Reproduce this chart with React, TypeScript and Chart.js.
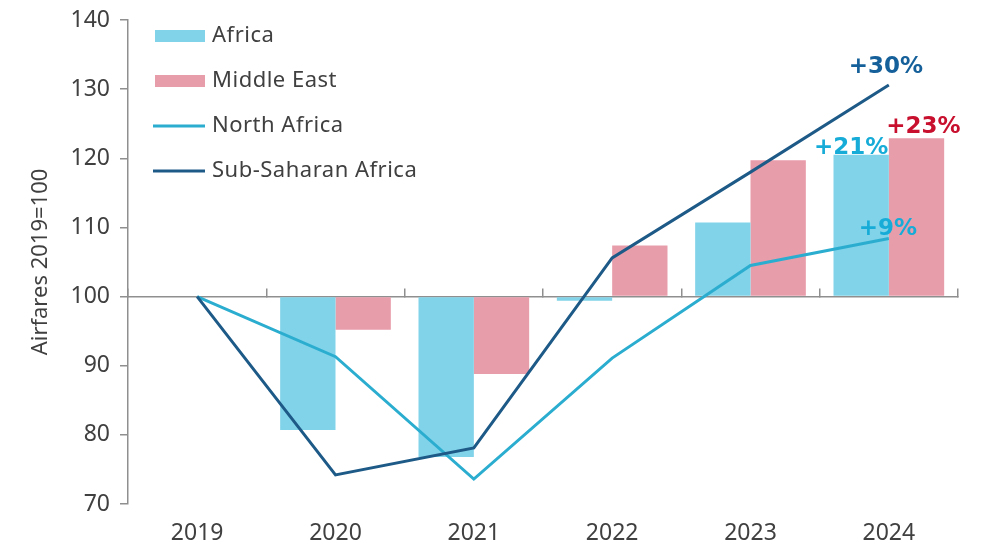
import { useEffect, useRef } from "react";
import { Chart, registerables } from "chart.js";

Chart.register(...registerables);

const years = ["2019", "2020", "2021", "2022", "2023", "2024"];
const africa = [100, 80.7, 76.8, 99.4, 110.7, 120.5];
const middleEast = [100, 95.2, 88.8, 107.4, 119.7, 122.9];
const northAfrica = [100, 91.3, 73.6, 91.1, 104.5, 108.4];
const subSaharan = [100, 74.2, 78.1, 105.6, 118.0, 130.6];
const seriesNames = ["Africa", "Middle East", "North Africa", "Sub-Saharan Africa"];
const changeLabels = ["+21%", "+23%", "+9%", "+30%"];
const yAxisTitle = "Airfares 2019=100";

const FONT = "'Noto Sans', 'DejaVu Sans', sans-serif";
const BOLD_FONT = "'DejaVu Sans', 'Noto Sans', sans-serif";
const TEXT = "#404040";
const AXIS = "#8f8f8f";
const colors = ["#80d3e9", "#e89dab", "#2badd0", "#1e5a87"];
const labelColors = ["#17acd8", "#c8102e", "#17acd8", "#15609a"];
const labelOffsets = [
  [-10, -7],
  [7, -11],
  [-1, -9],
  [-3, -18],
];

const legendPlugin = {
  id: "customLegend",
  afterDraw(chart: any) {
    const ctx = chart.ctx;
    const top = chart.chartArea.top;
    ctx.save();
    ctx.font = `22px ${FONT}`;
    ctx.textBaseline = "middle";
    ctx.textAlign = "left";
    try {
      ctx.letterSpacing = "0.5px";
    } catch (e) {}
    seriesNames.forEach((name, i) => {
      const y = top + 16 + i * 45;
      if (i < 2) {
        ctx.fillStyle = colors[i];
        ctx.fillRect(155, y - 6, 50, 12);
      } else {
        ctx.strokeStyle = colors[i];
        ctx.lineWidth = 3;
        ctx.beginPath();
        ctx.moveTo(153, y);
        ctx.lineTo(205, y);
        ctx.stroke();
      }
      ctx.fillStyle = TEXT;
      ctx.fillText(name, 212, y);
    });
    ctx.restore();
  },
};

const changePlugin = {
  id: "changeLabels",
  afterDatasetsDraw(chart: any) {
    const ctx = chart.ctx;
    ctx.save();
    ctx.font = `bold 23px ${BOLD_FONT}`;
    ctx.textAlign = "center";
    ctx.textBaseline = "middle";
    changeLabels.forEach((txt, i) => {
      const meta = chart.getDatasetMeta(i);
      const el = meta.data[meta.data.length - 1];
      if (!el) return;
      ctx.fillStyle = labelColors[i];
      ctx.fillText(txt, el.x + labelOffsets[i][0], el.y + labelOffsets[i][1]);
    });
    ctx.restore();
  },
};

export default function App() {
  const ref = useRef<HTMLCanvasElement | null>(null);

  useEffect(() => {
    document.body.style.margin = "0";
    if (!ref.current) return;
    const chart = new Chart(ref.current, {
      type: "bar",
      data: {
        labels: years,
        datasets: [
          {
            type: "bar",
            label: seriesNames[0],
            data: africa,
            base: 100,
            backgroundColor: colors[0],
            borderWidth: 0,
            categoryPercentage: 0.8,
            barPercentage: 1,
            order: 2,
            xAxisID: "x",
          } as any,
          {
            type: "bar",
            label: seriesNames[1],
            data: middleEast,
            base: 100,
            backgroundColor: colors[1],
            borderWidth: 0,
            categoryPercentage: 0.8,
            barPercentage: 1,
            order: 2,
            xAxisID: "x",
          } as any,
          {
            type: "line",
            label: seriesNames[2],
            data: northAfrica,
            borderColor: colors[2],
            borderWidth: 3,
            pointRadius: 0,
            tension: 0,
            order: 1,
            xAxisID: "x",
          },
          {
            type: "line",
            label: seriesNames[3],
            data: subSaharan,
            borderColor: colors[3],
            borderWidth: 3,
            pointRadius: 0,
            tension: 0,
            order: 0,
            xAxisID: "x",
          },
        ],
      },
      options: {
        animation: false,
        responsive: true,
        maintainAspectRatio: false,
        layout: { padding: { top: 20, right: 26, left: 0, bottom: 0 } },
        plugins: {
          legend: { display: false },
          tooltip: { enabled: false },
        },
        scales: {
          x: {
            type: "category",
            axis: "x",
            position: { y: 100 } as any,
            offset: true,
            grid: {
              offset: true,
              drawOnChartArea: false,
              drawTicks: true,
              tickLength: -9,
              color: AXIS,
              lineWidth: 1.5,
            },
            border: { display: true, color: AXIS, width: 1.5 },
            ticks: { display: false },
          } as any,
          x2: {
            type: "category",
            axis: "x",
            labels: years,
            position: "bottom",
            offset: true,
            grid: { display: false, drawTicks: false },
            border: { display: false },
            ticks: {
              color: TEXT,
              font: { size: 23, family: FONT },
              padding: 16,
              maxRotation: 0,
            },
            afterFit: (s: any) => {
              s.height = 44;
            },
          } as any,
          y: {
            min: 70,
            max: 140,
            ticks: {
              stepSize: 10,
              color: TEXT,
              font: { size: 23, family: FONT },
              padding: 10,
            },
            grid: {
              drawOnChartArea: false,
              drawTicks: true,
              tickLength: 8,
              color: AXIS,
              lineWidth: 1.5,
            },
            border: { display: true, color: AXIS, width: 1.5 },
            title: {
              display: true,
              text: yAxisTitle,
              color: TEXT,
              font: { size: 22, family: FONT },
              padding: { top: 28, bottom: 0 },
            },
            afterFit: (s: any) => {
              s.width = 128;
              s.paddingTop = 0;
              s.paddingBottom = 0;
            },
          },
        },
      },
      plugins: [legendPlugin, changePlugin],
    });
    return () => chart.destroy();
  }, []);

  return (
    <div style={{ width: 984, height: 548, position: "relative" }}>
      <canvas ref={ref} />
    </div>
  );
}
